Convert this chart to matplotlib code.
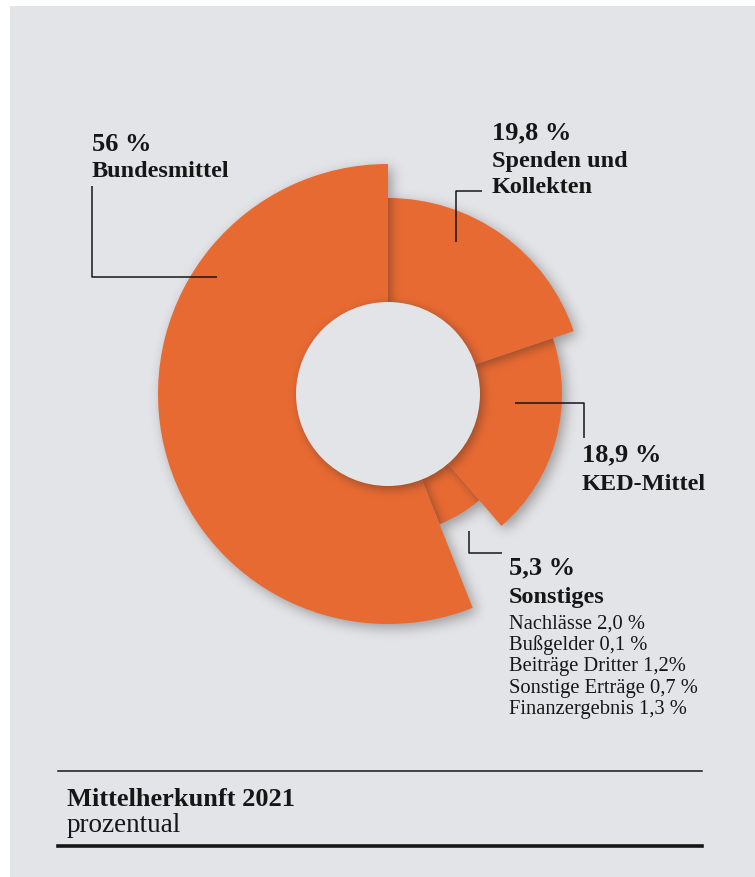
import numpy as np
import matplotlib
matplotlib.use("Agg")
import matplotlib.pyplot as plt
from matplotlib.patches import Wedge, Circle, Rectangle

# data (clockwise from 12 o'clock)
segments = ["Spenden und\nKollekten", "KED-Mittel", "Sonstiges", "Bundesmittel"]
shares = [19.8, 18.9, 5.3, 56.0]
share_labels = ["19,8 %", "18,9 %", "5,3 %", "56 %"]
other_items = ["Nachlässe", "Bußgelder", "Beiträge Dritter", "Sonstige Erträge", "Finanzergebnis"]
other_labels = ["2,0 %", "0,1 %", "1,2%", "0,7 %", "1,3 %"]
title = "Mittelherkunft 2021"
subtitle = "prozentual"

# style
W, H = 755, 878
ORANGE = "#e86a33"
BG = "#e3e4e8"
INK = "#161616"
FONT = "Liberation Serif"

cx, cy = 388, 395
hole_r = 92
outer_r = [196, 174, 140, 230]
stack = [2, 1, 0, 3]   # bottom -> top, each one casts a shadow on the ones below

fig = plt.figure(figsize=(W / 100, H / 100), dpi=100, facecolor="white")
ax = fig.add_axes([0, 0, 1, 1])
ax.set_xlim(0, W)
ax.set_ylim(H, 0)
ax.axis("off")

ax.add_patch(Rectangle((10, 7), W - 10, H - 7, color=BG, lw=0, zorder=0))

edges = np.concatenate([[0], np.cumsum(shares)]) / 100 * 360

# pixel grid for the soft shadows
yy, xx = np.mgrid[0:H, 0:W] + 0.5
rr = np.hypot(xx - cx, yy - cy)
aa = (np.degrees(np.arctan2(yy - cy, xx - cx)) + 90) % 360


def wedge_mask(i):
    return ((rr <= outer_r[i]) & (aa >= edges[i]) & (aa < edges[i + 1])).astype(float)


def blur(m, sigma=5.0, dx=3, dy=3):
    k = np.arange(-int(3 * sigma), int(3 * sigma) + 1)
    k = np.exp(-k ** 2 / (2 * sigma ** 2))
    k /= k.sum()
    m = np.apply_along_axis(lambda r: np.convolve(r, k, mode="same"), 1, m)
    m = np.apply_along_axis(lambda c: np.convolve(c, k, mode="same"), 0, m)
    return np.roll(np.roll(m, dy, axis=0), dx, axis=1)


def shadow_image(mask, strength):
    img = np.zeros((H, W, 4))
    img[..., 0] = 0.18
    img[..., 1] = 0.14
    img[..., 2] = 0.12
    img[..., 3] = np.clip(mask, 0, 1) * strength
    return img


masks = [wedge_mask(i) for i in range(len(shares))]
hole_mask = (rr <= hole_r).astype(float)

# shadow of the whole ring on the background
ring = np.clip(sum(masks), 0, 1)
ax.imshow(shadow_image(blur(ring, 6, 4, 4), 0.38), extent=(0, W, H, 0),
          origin="upper", interpolation="bilinear", zorder=1)

for pos, i in enumerate(stack):
    w = Wedge((cx, cy), outer_r[i], edges[i] - 90, edges[i + 1] - 90,
              facecolor=ORANGE, edgecolor="none", zorder=2 + 2 * pos)
    ax.add_patch(w)
    above = hole_mask.copy()
    for j in stack[pos + 1:]:
        above = above + masks[j]
    above = np.clip(above, 0, 1)
    im = ax.imshow(shadow_image(blur(above, 5, 3, 3), 0.42), extent=(0, W, H, 0),
                   origin="upper", interpolation="bilinear", zorder=3 + 2 * pos)
    im.set_clip_path(w)

ax.add_patch(Circle((cx, cy), hole_r, facecolor=BG, edgecolor="none", zorder=20))

# labels
line_kw = dict(color=INK, lw=1.1, solid_capstyle="butt", zorder=25)
num_kw = dict(fontsize=19, fontweight="bold", color=INK, family=FONT, va="baseline", zorder=25)
name_kw = dict(fontsize=17.5, fontweight="bold", color=INK, family=FONT, va="baseline", zorder=25)

# Bundesmittel
ax.text(92, 151, share_labels[3], **num_kw)
ax.text(92, 177, segments[3], **name_kw)
ax.plot([92, 92, 217], [187, 278, 278], **line_kw)

# Spenden und Kollekten
ax.text(492, 139, share_labels[0], **num_kw)
for k, part in enumerate(segments[0].split("\n")):
    ax.text(492, 167 + k * 26, part, **name_kw)
ax.plot([482, 456, 456], [192, 192, 243], **line_kw)

# KED-Mittel
ax.text(582, 461, share_labels[1], **num_kw)
ax.text(582, 490, segments[1], **name_kw)
ax.plot([515, 584, 584], [404, 404, 439], **line_kw)

# Sonstiges
ax.text(509, 574, share_labels[2], **num_kw)
ax.text(509, 603, segments[2], **name_kw)
ax.plot([469, 469, 502], [532, 554, 554], **line_kw)
for k, (item, val) in enumerate(zip(other_items, other_labels)):
    ax.text(509, 629 + k * 21.2, f"{item} {val}", fontsize=14.8, color=INK,
            family=FONT, va="baseline", zorder=25)

# footer
ax.plot([58, 702], [772, 772], color=INK, lw=1.1, zorder=25)
ax.text(67, 806, title, fontsize=19, fontweight="bold", color=INK, family=FONT,
        va="baseline", zorder=25)
ax.text(67, 832, subtitle, fontsize=19.5, color=INK, family=FONT, va="baseline", zorder=25)
ax.plot([58, 702], [847, 847], color=INK, lw=2.6, zorder=25)

fig.savefig("out.png", dpi=100, facecolor="white")
